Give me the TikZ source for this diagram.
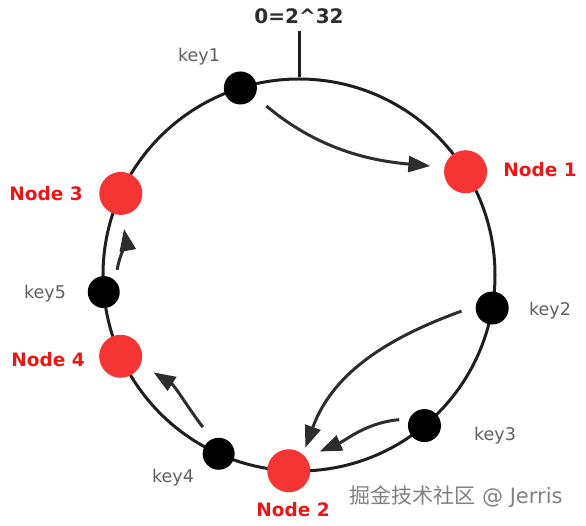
\documentclass[tikz,border=0pt]{standalone}
\usepackage{fontspec}
\setmainfont{DejaVu Sans}
\newfontfamily\cjkfont{Noto Sans CJK SC}
\usetikzlibrary{arrows.meta}

\definecolor{ringline}{RGB}{30,30,30}
\definecolor{nodered}{RGB}{245,52,52}
\definecolor{labelred}{RGB}{235,22,22}
\definecolor{keygray}{RGB}{95,95,95}
\definecolor{arrowgray}{RGB}{45,45,45}

\begin{document}
\begin{tikzpicture}[x=1pt, y=1pt,
    keydot/.style={circle, fill=black, minimum size=33pt, inner sep=0pt},
    server/.style={circle, fill=nodered, minimum size=43pt, inner sep=0pt},
    keytext/.style={font=\fontsize{17.5}{20}\selectfont, text=keygray},
    servertext/.style={font=\fontsize{18.5}{20}\selectfont\bfseries, text=labelred},
    flow/.style={draw=arrowgray, line width=3pt, -{Triangle[length=22pt, width=16pt]}}]
    \useasboundingbox (-299,-251) rectangle (287,275);

    % Hash ring
    \node[circle, draw=ringline, line width=3pt, minimum size=392pt, inner sep=0pt] (ring) at (0,0) {};
    \node[font=\fontsize{20}{22}\selectfont\bfseries, text=arrowgray] (zero) at (0,259) {0=2\textasciicircum32};
    \draw[ringline, line width=3pt] (ring.north) -- ++(0,46);

    % Servers
    \node[server] (n1) at (31.8:196) {};
    \node[server] (n2) at (-93:196) {};
    \node[server] (n3) at (155.4:196) {};
    \node[server] (n4) at (204.5:196) {};

    % Keys
    \node[keydot] (key1) at (107.4:196) {};
    \node[keydot] (key2) at (-9.7:196) {};
    \node[keydot] (key3) at (-50.2:196) {};
    \node[keydot, minimum size=32pt] (key4) at (-114.2:196) {};
    \node[keydot, minimum size=32pt] (key5) at (185:196) {};

    % Labels
    \node[servertext] (n1txt) at (241,105) {Node 1};
    \node[servertext] (n2txt) at (-6,-235) {Node 2};
    \node[servertext] (n3txt) at (-253,81) {Node 3};
    \node[servertext] (n4txt) at (-251,-85) {Node 4};
    \node[keytext] (key1txt) at (-100,218) {key1};
    \node[keytext] (key2txt) at (251,-36) {key2};
    \node[keytext] (key3txt) at (196,-161) {key3};
    \node[keytext] (key4txt) at (-126,-203) {key4};
    \node[keytext] (key5txt) at (-254,-19) {key5};

    % Key -> server (clockwise)
    \draw[flow, shorten <=15pt, shorten >=14pt] (key1.-30) to[out=-40, in=175] (n1.168);
    \draw[flow, shorten <=15pt, shorten >=7pt] (key2.173) to[out=200, in=70] (n2.49);
    \draw[flow, shorten <=10pt, shorten >=15pt] (key3.156) to[out=185, in=23] (n2.38);
    \draw[flow, shorten <=15pt, shorten >=15pt] (key4.115) to[out=127, in=-32] (n4.-22);
    \draw[flow, shorten <=11pt, shorten >=14pt] (key5.45) to[out=80, in=-80] (n3.-88);

    % Watermark
    \node[font=\fontsize{21}{24}\selectfont, text=gray] (mark) at (157,-222) {{\cjkfont 掘金技术社区} @ Jerris};
\end{tikzpicture}
\end{document}
